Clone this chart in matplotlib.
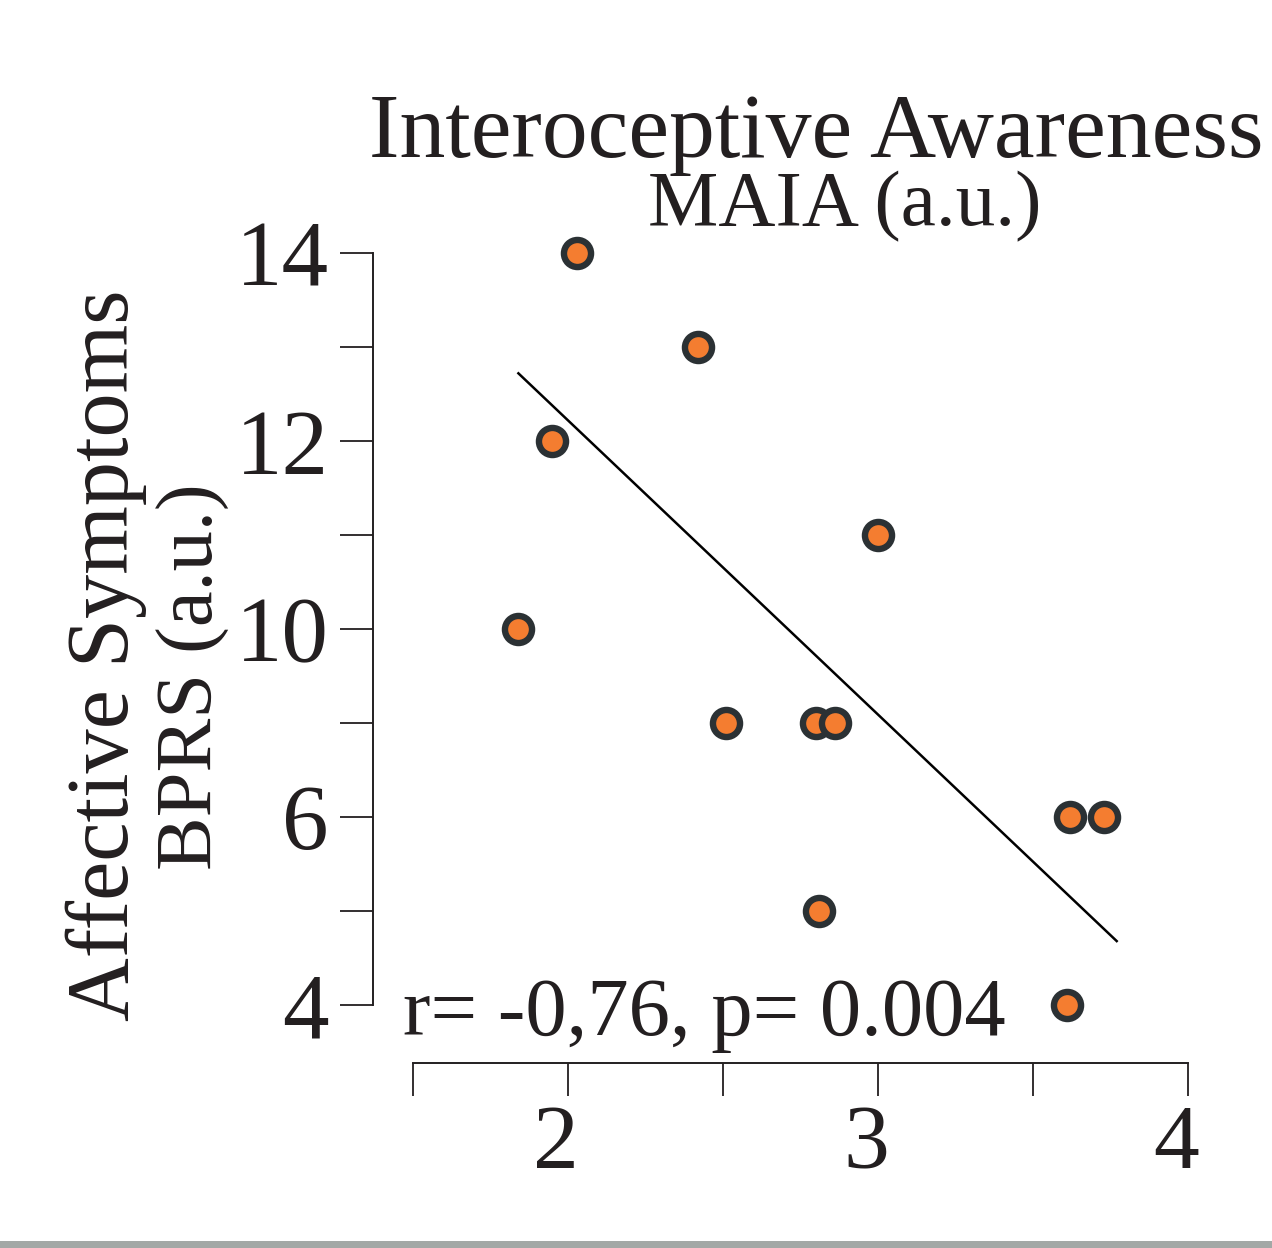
import numpy as np
import matplotlib
matplotlib.use("Agg")
import matplotlib.pyplot as plt
import matplotlib.transforms as mtransforms
from matplotlib.patches import Rectangle

# ---- data ----
maia = [2.03, 2.42, 1.95, 3.00, 1.84, 2.51, 2.80, 2.86, 3.62, 3.73, 2.81, 3.61]
bprs = [14, 13, 12, 11, 10, 9, 9, 9, 8, 8, 7, 6]
fit_x = [1.84, 3.77]        # end points of the drawn regression line
fit_y = [12.72, 6.68]

y_ticks = [6, 7, 8, 9, 10, 11, 12, 13, 14]
y_tick_labels = ["4", "", "6", "", "10", "", "12", "", "14"]
x_ticks = [1.5, 2, 2.5, 3, 3.5, 4]
x_tick_labels = ["", "2", "", "3", "", "4"]

title_l1 = "Interoceptive Awareness"
title_l2 = "MAIA (a.u.)"
ylab_l1 = "Affective Symptoms"
ylab_l2 = "BPRS (a.u.)"
stat_text = "r= -0,76, p= 0.004"

orange = "#F47D30"
edge = "#2B3134"
ink = "#231F20"

plt.rcParams["font.family"] = ["Liberation Serif", "DejaVu Serif"]

W, H = 1272, 1248
fig = plt.figure(figsize=(W / 100, H / 100), dpi=100)

# axes placed in pixel terms, spines trimmed to the tick range
x0, x1 = 1.5 - 40 / 310, 4.0 + 12 / 310
ytop, ybot = 14 + 23 / 94, 14 - (1063 - 253) / 94
ax = fig.add_axes([373 / W, (H - 1063) / H, 827 / W, 833 / H])
ax.set_xlim(x0, x1)
ax.set_ylim(ybot, ytop)

ax.plot(fit_x, fit_y, color="black", lw=1.8, zorder=2)
ax.scatter(maia, bprs, s=19.5 ** 2, c=orange, edgecolors=edge, linewidths=4.6,
           zorder=3, clip_on=False)

for s in ["top", "right"]:
    ax.spines[s].set_visible(False)
ax.spines["left"].set_bounds(6, 14)
ax.spines["bottom"].set_bounds(1.5, 4)
for s in ["left", "bottom"]:
    ax.spines[s].set_linewidth(1.4)
    ax.spines[s].set_color(ink)

ax.set_yticks(y_ticks)
ax.set_yticklabels(y_tick_labels)
ax.set_xticks(x_ticks)
ax.set_xticklabels(x_tick_labels)
ax.tick_params(axis="y", length=24, width=1.3, pad=8, labelsize=67, colors=ink)
ax.tick_params(axis="x", length=24, width=1.3, pad=6, labelsize=66, colors=ink)

# x tick labels sit a little left of their ticks in the reference
shift = mtransforms.ScaledTranslation(-12 / 100, 0, fig.dpi_scale_trans)
for lab in ax.get_xticklabels():
    lab.set_transform(lab.get_transform() + shift)

# correlation text, left edge near x=403px, baseline near y=1035px
ax.text(1.5 - 10 / 310, 14 - (1035 - 253) / 94, stat_text, fontsize=59.5,
        color=ink, ha="left", va="baseline")

# title block (two lines, tight spacing)
fig.text(816 / W, 1 - 157 / H, title_l1, fontsize=66, color=ink,
         ha="center", va="baseline")
fig.text(845 / W, 1 - 225 / H, title_l2, fontsize=57, color=ink,
         ha="center", va="baseline")

# y label block (rotated, two lines)
fig.text(128 / W, 1 - 655 / H, ylab_l1, fontsize=63.5, color=ink,
         rotation=90, ha="center", va="baseline", rotation_mode="anchor")
fig.text(213 / W, 1 - 677 / H, ylab_l2, fontsize=58, color=ink,
         rotation=90, ha="center", va="baseline", rotation_mode="anchor")

# grey strip along the bottom edge
fig.patches.append(Rectangle((0, 0), 1, 7 / H, transform=fig.transFigure,
                             facecolor="#A3A8A6", edgecolor="none"))

fig.savefig("out.png", dpi=100)
